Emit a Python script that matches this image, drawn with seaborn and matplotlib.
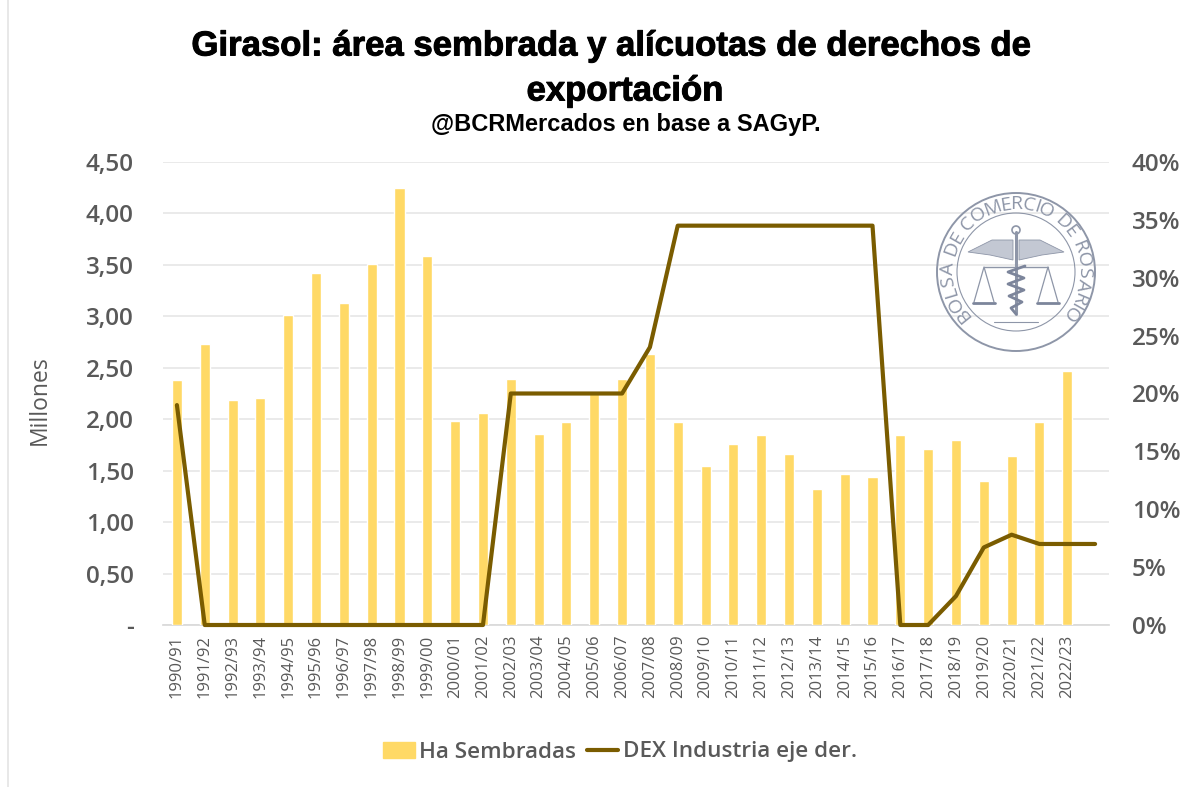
import numpy as np
import pandas as pd
import matplotlib
matplotlib.use("Agg")
import matplotlib.pyplot as plt
import matplotlib.patheffects as pe
import seaborn as sns
from matplotlib.font_manager import FontProperties
from matplotlib.lines import Line2D
from matplotlib.patches import Circle, Patch, Polygon
from matplotlib.textpath import TextPath

# Values
campaigns = ['1990/91', '1991/92', '1992/93', '1993/94', '1994/95', '1995/96', '1996/97',
             '1997/98', '1998/99', '1999/00', '2000/01', '2001/02', '2002/03', '2003/04',
             '2004/05', '2005/06', '2006/07', '2007/08', '2008/09', '2009/10', '2010/11',
             '2011/12', '2012/13', '2013/14', '2014/15', '2015/16', '2016/17', '2017/18',
             '2018/19', '2019/20', '2020/21', '2021/22', '2022/23', ' ']
ha_sembradas = [2.38, 2.73, 2.19, 2.21, 3.01, 3.42, 3.13, 3.51, 4.25, 3.59, 1.98, 2.06,
                2.39, 1.86, 1.97, 2.26, 2.39, 2.63, 1.97, 1.55, 1.76, 1.85, 1.66, 1.32,
                1.47, 1.44, 1.85, 1.71, 1.80, 1.40, 1.64, 1.97, 2.47, np.nan]
dex_industria = [19, 0, 0, 0, 0, 0, 0, 0, 0, 0, 0, 0, 20, 20, 20, 20, 20, 24, 34.5, 34.5,
                 34.5, 34.5, 34.5, 34.5, 34.5, 34.5, 0, 0, 2.5, 6.7, 7.8, 7, 7, 7]
left_ticks = [0, 0.5, 1, 1.5, 2, 2.5, 3, 3.5, 4, 4.5]
left_labels = ['-', '0,50', '1,00', '1,50', '2,00', '2,50', '3,00', '3,50', '4,00', '4,50']
right_ticks = [0, 5, 10, 15, 20, 25, 30, 35, 40]

BAR_COLOR = '#FFD966'
LINE_COLOR = '#7A5C00'
TEXT_COLOR = '#595959'
LOGO_COLOR = '#8E96A8'

sns.set_theme(style="white")
plt.rcParams['font.family'] = ['Open Sans', 'DejaVu Sans']

df = pd.DataFrame({'campana': campaigns, 'ha': ha_sembradas, 'dex': dex_industria})

W, H = 1200, 787
fig = plt.figure(figsize=(12, 7.87), dpi=100)
ax = fig.add_axes([163 / W, 1 - 625 / H, (1109 - 163) / W, (625 - 162) / H])

sns.barplot(data=df, x='campana', y='ha', color=BAR_COLOR, saturation=1, width=0.36, ax=ax, zorder=3)
ax.set_xlim(-0.5, len(campaigns) - 0.5)
ax.set_ylim(0, 4.5)
ax.set_yticks(left_ticks, left_labels)
ax.set_xlabel('')
ax.set_ylabel('Millones', fontsize=16.5, color=TEXT_COLOR, labelpad=0)
ax.yaxis.set_label_coords((52 - 163) / (1109 - 163), (625 - 400) / (625 - 162))
ax.grid(axis='y', color='#E6E6E6', lw=1.2, zorder=0)
ax.tick_params(axis='y', length=0, labelsize=17.5, labelcolor=TEXT_COLOR, pad=21)
ax.tick_params(axis='x', length=0, labelsize=12, labelcolor=TEXT_COLOR, pad=7, labelrotation=90)
for lab in ax.get_yticklabels():
    lab.set_fontweight('semibold')
sns.despine(ax=ax, left=True, top=True, right=True)
ax.spines['bottom'].set_color('#D9D9D9')

ax2 = ax.twinx()
sns.lineplot(x=np.arange(len(campaigns)), y=df['dex'], color=LINE_COLOR, lw=3, ax=ax2,
             solid_joinstyle='round', clip_on=False, zorder=5)
ax2.set_ylim(0, 40)
ax2.set_yticks(right_ticks, [f'{t}%' for t in right_ticks])
ax2.set_ylabel('')
ax2.tick_params(axis='y', length=0, labelsize=17.5, labelcolor=TEXT_COLOR, pad=16.3)
for lab in ax2.get_yticklabels():
    lab.set_fontweight('semibold')
sns.despine(ax=ax2, left=True, top=True, right=True, bottom=True)

# Titles
title_font = ['Liberation Sans', 'DejaVu Sans']
heavy = [pe.withStroke(linewidth=0.7, foreground='black')]
fig.text(611 / W, 1 - 46 / H, 'Girasol: área sembrada y alícuotas de derechos de', ha='center', va='center',
         fontsize=25, fontweight='bold', color='black', family=title_font, path_effects=heavy)
fig.text(625 / W, 1 - 91 / H, 'exportación', ha='center', va='center',
         fontsize=25, fontweight='bold', color='black', family=title_font, path_effects=heavy)
fig.text(626 / W, 1 - 124 / H, '@BCRMercados en base a SAGyP.', ha='center', va='center',
         fontsize=17, fontweight='bold', color='black', family=title_font)

# Legend
handles = [Patch(color=BAR_COLOR, label='Ha Sembradas'),
           Line2D([0], [0], color=LINE_COLOR, lw=3, label='DEX Industria eje der.')]
leg = fig.legend(handles=handles, loc='center', bbox_to_anchor=(620 / W, 1 - 752 / H), ncol=2, frameon=False,
                 columnspacing=0.45, handlelength=1.4, handletextpad=0.2, labelcolor=TEXT_COLOR,
                 prop={'size': 16.2, 'weight': 'semibold', 'family': ['Open Sans', 'DejaVu Sans']})

# Seal of the Bolsa, drawn in pixel coordinates of the figure
logo = fig.add_axes([0, 0, 1, 1], facecolor='none')
logo.set_xlim(0, W)
logo.set_ylim(H, 0)
logo.axis('off')
cx, cy = 1016, 272
logo.add_patch(Circle((cx, cy), 79, fill=False, ec=LOGO_COLOR, lw=1.4))
logo.add_patch(Circle((cx, cy), 59, fill=False, ec=LOGO_COLOR, lw=0.8))

# letters along the ring, spaced by their own width
seal_text = 'BOLSA DE COMERCIO DE ROSARIO'
fp = FontProperties(family='Open Sans')
widths = []
for ch in seal_text:
    widths.append(TextPath((0, 0), ch, size=10, prop=fp).get_extents().width + 1.2 if ch != ' ' else 3.2)
widths = np.array(widths)
mids = np.cumsum(widths) - widths / 2
angles = 224 - mids / widths.sum() * (224 + 44)
for ch, a in zip(seal_text, angles):
    r = np.radians(a)
    logo.text(cx + 68 * np.cos(r), cy - 68 * np.sin(r), ch, fontsize=14, color=LOGO_COLOR,
              ha='center', va='center', rotation=a - 90, family=['Open Sans', 'DejaVu Sans'])

# wings
for s in (-1, 1):
    logo.add_patch(Polygon([(cx + s * 3, cy - 32), (cx + s * 24, cy - 32), (cx + s * 48, cy - 20),
                            (cx + s * 26, cy - 17), (cx + s * 3, cy - 12)],
                           fc='#C3C8D3', ec=LOGO_COLOR, lw=0.6))
    # scales
    px = cx + s * 32
    logo.plot([cx, px], [cy - 5, cy - 5], color=LOGO_COLOR, lw=1)
    logo.plot([px - 10, px, px + 10], [cy + 30, cy - 5, cy + 30], color=LOGO_COLOR, lw=0.9)
    logo.plot([px - 11, px + 11], [cy + 31, cy + 31], color='#7C859B', lw=2)
# staff and snake
logo.plot([cx, cx], [cy - 40, cy + 42], color=LOGO_COLOR, lw=2.2)
logo.add_patch(Circle((cx, cy - 42), 4, fill=False, ec=LOGO_COLOR, lw=1.2))
snake_y = np.array([-6, 0, 6, 12, 18, 24, 30, 36, 42])
snake_x = np.array([9, -8, 8, -8, 8, -7, 6, -5, 0])
logo.plot(cx + snake_x, cy + snake_y, color='#7C859B', lw=2)
logo.plot([cx - 22, cx + 22], [cy + 50, cy + 50], color=LOGO_COLOR, lw=0.8)

# Faint frame line on the left of the source image
fig.add_artist(Line2D([8 / W, 8 / W], [0, 1], color='#E4E4E4', lw=1.2))

fig.savefig('out.png', dpi=100, facecolor='white')
